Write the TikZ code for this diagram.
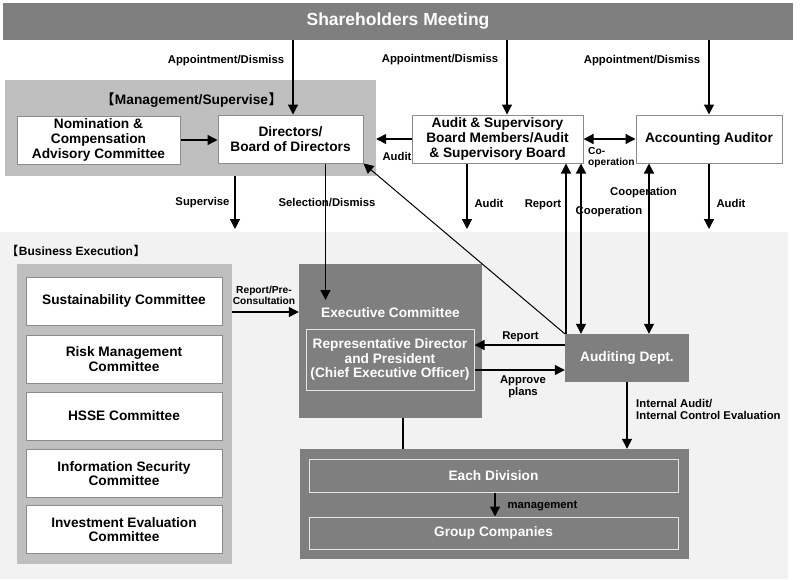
\documentclass[tikz,border=0pt]{standalone}
\usepackage{fontspec}
\setmainfont{Liberation Sans}
\newfontfamily\cjk{Noto Sans CJK JP}
\usetikzlibrary{arrows.meta}
\definecolor{dg}{HTML}{7F7F7F}
\definecolor{lg}{HTML}{BFBFBF}
\definecolor{bgc}{HTML}{F2F2F2}
\definecolor{bd}{HTML}{8C8C8C}
\definecolor{ib}{HTML}{E6E6E6}
\newcommand\bxfont{\fontsize{13.7}{14.6}\selectfont\bfseries}
\newcommand\lbfont{\fontsize{11.3}{12}\selectfont\bfseries}
\newcommand\smfont{\fontsize{10.2}{11}\selectfont\bfseries}
\newcommand\lb[1]{{\cjk\bfseries\char"3010}\kern0.5pt#1\kern0.5pt{\cjk\bfseries\char"3011}}
\begin{document}
\begin{tikzpicture}[x=1pt,y=-1pt,
  wbox/.style={draw=bd, line width=1pt, fill=white, inner sep=0pt, align=center, font=\bxfont},
  dbox/.style={fill=dg, inner sep=0pt, align=center, font=\bxfont, text=white},
  ibox/.style={draw=ib, line width=1pt, fill=dg, inner sep=0pt, align=center, font=\bxfont, text=white},
  panel/.style={fill=lg, inner sep=0pt},
  lbl/.style={font=\lbfont, inner sep=0pt, align=center},
  sml/.style={font=\smfont, inner sep=0pt, align=center},
  arr/.style={line width=1.3pt, -{Triangle[length=10pt,width=10pt]}},
  darr/.style={line width=1.3pt, {Triangle[length=10pt,width=10pt]}-{Triangle[length=10pt,width=10pt]}},
  ln/.style={line width=1.3pt}]
\useasboundingbox (0,0) rectangle (800,579);
\fill[bgc] (0,232) rectangle (788,579);

% top bar
\node[dbox, minimum width=790, minimum height=37, font=\fontsize{17.5}{20}\selectfont\bfseries] (sh) at (398,21.5) {Shareholders Meeting};

% management area
\node[panel, minimum width=371, minimum height=96] (mg) at (190.5,127.5) {};
\node[lbl, font=\bxfont] (mgt) at (191.5,100) {\lb{Management/Supervise}};
\node[wbox, minimum width=163, minimum height=48] (nom) at (98.5,140) {Nomination \&\\Compensation\\Advisory Committee};
\node[wbox, minimum width=145, minimum height=48] (dir) at (290.5,139) {Directors/\\Board of Directors};
\node[wbox, minimum width=171, minimum height=48] (asb) at (497.5,139) {Audit \& Supervisory\\Board Members/Audit\\\& Supervisory Board};
\node[wbox, minimum width=146, minimum height=48] (acc) at (709,139) {Accounting Auditor};

% business execution
\node[lbl, font=\fontsize{12}{13}\selectfont\bfseries] (bet) at (76,251) {\lb{Business Execution}};
\node[panel, minimum width=215, minimum height=300] (cp) at (124.5,414) {};
\node[wbox, minimum width=196, minimum height=48] (c1) at (124,301) {Sustainability Committee};
\node[wbox, minimum width=196, minimum height=48] (c2) at (124,359) {Risk Management\\Committee};
\node[wbox, minimum width=196, minimum height=48] (c3) at (124,416) {HSSE Committee};
\node[wbox, minimum width=196, minimum height=48] (c4) at (124,473.5) {Information Security\\Committee};
\node[wbox, minimum width=196, minimum height=48] (c5) at (124,529.5) {Investment Evaluation\\Committee};

\node[dbox, minimum width=183, minimum height=154] (ec) at (390.5,341) {};
\node[dbox, inner sep=0pt] (ect) at (390.5,313) {Executive Committee};
\node[ibox, minimum width=168, minimum height=61] (rep) at (390,359.5) {Representative Director\\and President\\(Chief Executive Officer)};
\node[dbox, minimum width=124, minimum height=48] (ad) at (627,358) {Auditing Dept.};
\node[dbox, minimum width=389, minimum height=110] (bt) at (494.5,504) {};
\node[ibox, minimum width=369, minimum height=33] (ed) at (493.5,475.5) {Each Division};
\node[ibox, minimum width=369, minimum height=32] (gc) at (493.5,533) {Group Companies};

% coordinates
\coordinate (xa) at (293,0);
\coordinate (xb) at (507,0);
\coordinate (xc) at (709,0);
\coordinate (supE) at (235,229);
\coordinate (selE) at (325.5,300);
\coordinate (auE) at (467,229);
\coordinate (acE) at (709,229);
\coordinate (xr) at (566,0);
\coordinate (xco) at (581,0);
\coordinate (xac) at (649,0);
\coordinate (yrp) at (0,312);
\coordinate (yre) at (0,345);
\coordinate (yap) at (0,370);
\coordinate (xec) at (403,0);
\coordinate (xm) at (495,0);

% arrows
\draw[arr] (sh.south -| xa) -- (dir.north -| xa);
\node[lbl] (l1) at (226,61) {Appointment/Dismiss};
\draw[arr] (sh.south -| xb) -- (asb.north -| xb);
\node[lbl] (l2) at (440,60) {Appointment/Dismiss};
\draw[arr] (sh.south -| xc) -- (acc.north -| xc);
\node[lbl] (l3) at (642,61) {Appointment/Dismiss};
\draw[arr] (nom.east) -- (dir.west |- nom.east);
\draw[arr] (asb.west) -- (mg.east |- asb.west);
\node[lbl] (l4) at (397,156) {Audit};
\draw[darr] (asb.east) -- (acc.west);
\node[sml, anchor=north west, align=left] (l5) at (588,147.5) {Co-\\operation};
\draw[arr] (mg.south -| supE) -- (supE);
\node[lbl] (l6) at (202.5,203) {Supervise};
\node[lbl] (l7) at (327,203) {Selection/Dismiss};
\draw[arr] (dir.south -| selE) -- (selE);
\draw[arr] (asb.south -| auE) -- (auE);
\node[lbl] (l8) at (489,203) {Audit};
\draw[arr] (acc.south -| acE) -- (acE);
\node[lbl] (l9) at (731,203) {Audit};
\draw[arr] (ad.north -| xr) -- (asb.south -| xr);
\node[lbl] (l10) at (543,205) {Report};
\draw[darr] (asb.south -| xco) -- (ad.north -| xco);
\node[lbl] (l11) at (609,212) {Cooperation};
\draw[darr] (acc.south -| xac) -- (ad.north -| xac);
\node[lbl] (l12) at (643.5,193) {Cooperation};
\draw[line width=1pt, -{Triangle[length=10pt,width=10pt]}] (ad.north west) -- (dir.south east);
\draw[arr] (cp.east |- yrp) -- (ec.west |- yrp);
\node[sml] (l13) at (264,295.5) {Report/Pre-\\Consultation};
\draw[arr] (ad.west |- yre) -- (rep.east |- yre);
\node[lbl] (l14) at (520.5,337) {Report};
\draw[arr] (rep.east |- yap) -- (ad.west |- yap);
\node[lbl] (l15) at (523,387) {Approve\\plans};
\draw[arr] (ad.south) -- (bt.north -| ad.south);
\node[lbl, anchor=west, align=left] (l16) at (636,409) {Internal Audit/\\Internal Control Evaluation};
\draw[ln] (ec.south -| xec) -- (bt.north -| xec);
\draw[arr] (ed.south -| xm) -- (gc.north -| xm);
\node[lbl] (l17) at (542.5,506) {management};
\end{tikzpicture}
\end{document}
